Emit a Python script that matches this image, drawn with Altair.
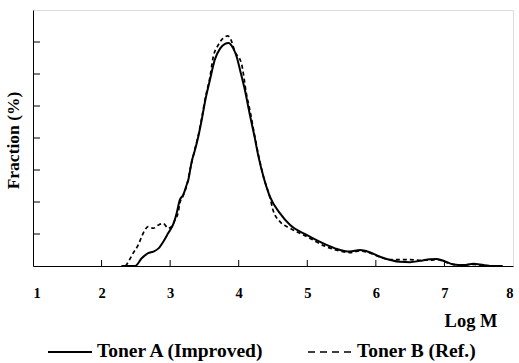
import altair as alt
import pandas as pd

# ---- data ----
series_names = ["Toner A (Improved)", "Toner B (Ref.)"]

a_logm = [2.29, 2.49, 2.585, 2.68, 2.755, 2.83, 2.90, 2.97, 3.05, 3.095, 3.14, 3.19,
          3.24, 3.265, 3.314, 3.363, 3.41, 3.46, 3.51, 3.58, 3.65, 3.73, 3.80, 3.85,
          3.92, 3.97, 4.02, 4.09, 4.165, 4.23, 4.285, 4.36, 4.455, 4.60, 4.75, 4.99,
          5.28, 5.48, 5.62, 5.77, 5.91, 6.06, 6.21, 6.35, 6.50, 6.64, 6.79, 6.89,
          7.01, 7.13, 7.28, 7.42, 7.57, 7.71, 7.85]
a_frac = [0.0, 0.0, 0.24, 0.40, 0.45, 0.55, 0.76, 1.02, 1.33, 1.65, 2.06, 2.22,
          2.53, 2.69, 3.26, 3.63, 4.04, 4.56, 5.15, 5.81, 6.44, 6.80, 6.94, 6.97,
          6.80, 6.54, 6.12, 5.50, 4.70, 4.05, 3.45, 2.80, 2.17, 1.65, 1.28, 0.97,
          0.66, 0.50, 0.45, 0.50, 0.43, 0.29, 0.19, 0.13, 0.12, 0.16, 0.21, 0.22,
          0.14, 0.05, 0.03, 0.07, 0.03, 0.0, 0.0]

b_logm = [2.35, 2.39, 2.46, 2.535, 2.585, 2.63, 2.68, 2.755, 2.83, 2.90, 2.97, 3.02,
          3.07, 3.12, 3.14, 3.19, 3.24, 3.30, 3.36, 3.41, 3.46, 3.51, 3.58, 3.63,
          3.70, 3.77, 3.84, 3.88, 3.945, 4.04, 4.115, 4.165, 4.23, 4.29, 4.36, 4.455,
          4.50, 4.60, 4.75, 4.99, 5.28, 5.48, 5.62, 5.77, 5.91, 6.06, 6.21, 6.35,
          6.50, 6.64, 6.79, 6.89, 7.01, 7.13, 7.28, 7.42, 7.57, 7.71]
b_frac = [0.0, 0.13, 0.40, 0.66, 0.92, 1.12, 1.23, 1.18, 1.28, 1.33, 1.18, 1.23,
          1.44, 1.70, 1.96, 2.20, 2.50, 3.10, 3.65, 4.08, 4.62, 5.22, 5.90, 6.55,
          6.90, 7.11, 7.19, 7.10, 6.70, 6.33, 5.35, 4.85, 4.10, 3.45, 2.80, 2.15,
          1.75, 1.39, 1.18, 0.92, 0.60, 0.47, 0.42, 0.47, 0.41, 0.28, 0.20, 0.20,
          0.20, 0.18, 0.18, 0.20, 0.13, 0.05, 0.03, 0.05, 0.02, 0.0]

x_ticks = [1, 2, 3, 4, 5, 6, 7, 8]
x_inner_ticks = [2, 3, 4, 5, 6, 7]
y_inner_ticks = [1, 2, 3, 4, 5, 6, 7]

FONT = "Liberation Serif"

df_a = pd.DataFrame({"logm": a_logm, "frac": a_frac})
df_b = pd.DataFrame({"logm": b_logm, "frac": b_frac})

xscale = alt.Scale(domain=[1, 8], nice=False, zero=False)
yscale = alt.Scale(domain=[0, 8], nice=False)

xaxis = alt.Axis(values=x_ticks, format="d", labelFont=FONT, labelFontWeight="bold",
                 labelFontSize=14.5, labelColor="black", ticks=False, tickSize=0,
                 labelPadding=31, labelBaseline="alphabetic", grid=False,
                 domainColor="black", domainWidth=1,
                 title="Log M", titleFont=FONT, titleFontWeight="bold", titleFontSize=18.5,
                 titleColor="black", titleX=464, titleY=60.5, titleAlign="right",
                 titleBaseline="alphabetic", titleAnchor="end")
yaxis = alt.Axis(labels=False, ticks=False, tickSize=0, grid=False,
                 domainColor="black", domainWidth=1,
                 title="Fraction (%)", titleFont=FONT, titleFontWeight="bold",
                 titleFontSize=17.5, titleColor="black", titleAngle=270,
                 titleX=-14.7, titleY=130, titleAlign="center",
                 titleBaseline="alphabetic")

X = lambda f: alt.X(f, scale=xscale, axis=xaxis)
Y = lambda f: alt.Y(f, scale=yscale, axis=yaxis)

line_a = alt.Chart(df_a).mark_line(color="black", strokeWidth=2, interpolate="monotone").encode(
    x=X("logm:Q"), y=Y("frac:Q"),
)
line_b = alt.Chart(df_b).mark_line(color="black", strokeWidth=1.7, strokeDash=[4, 3],
                                   interpolate="monotone").encode(
    x=X("logm:Q"), y=Y("frac:Q"),
)

xt = alt.Chart(pd.DataFrame({"v": x_inner_ticks})).mark_rule(color="black", strokeWidth=1).encode(
    x=X("v:Q"), y=alt.value(250), y2=alt.value(256),
)
yt = alt.Chart(pd.DataFrame({"v": y_inner_ticks})).mark_rule(color="black", strokeWidth=1).encode(
    y=Y("v:Q"), x=alt.value(0), x2=alt.value(7),
)

leg_df_a = pd.DataFrame({"label": [series_names[0]]})
leg_df_b = pd.DataFrame({"label": [series_names[1]]})

leg_line_a = alt.Chart(leg_df_a).mark_rule(color="black", strokeWidth=2).encode(
    x=alt.value(15), x2=alt.value(59), y=alt.value(342))
leg_line_b = alt.Chart(leg_df_b).mark_rule(color="black", strokeWidth=1.6, strokeDash=[7, 5]).encode(
    x=alt.value(275), x2=alt.value(319), y=alt.value(342))
leg_text_a = alt.Chart(leg_df_a).mark_text(font=FONT, fontWeight="bold", fontSize=19.5,
                                            align="left", baseline="alphabetic", color="black").encode(
    x=alt.value(64), y=alt.value(347), text="label:N")
leg_text_b = alt.Chart(leg_df_b).mark_text(font=FONT, fontWeight="bold", fontSize=19.5,
                                            align="left", baseline="alphabetic", color="black").encode(
    x=alt.value(324), y=alt.value(347), text="label:N")

chart = alt.layer(line_a, line_b, xt, yt, leg_line_a, leg_line_b, leg_text_a, leg_text_b).properties(
    width=480, height=256,
    padding={"left": 33, "top": 10, "right": 6, "bottom": 97},
    autosize=alt.AutoSizeParams(type="none"),
).configure_view(stroke="#555555", strokeWidth=1.3).configure(background="white")

chart.save("out.html", embed_options={"renderer": "svg", "actions": False})
